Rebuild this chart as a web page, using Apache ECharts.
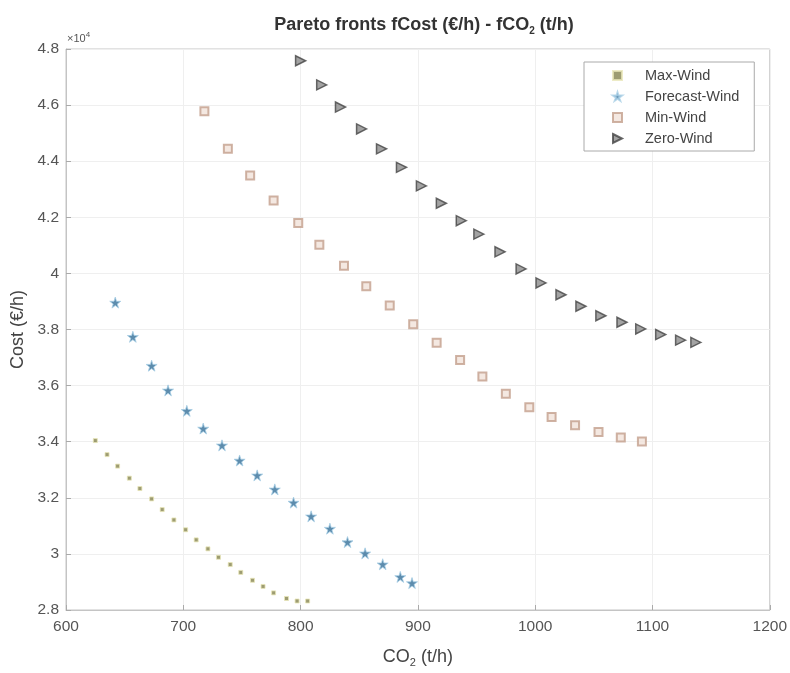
<!DOCTYPE html>
<html>
<head>
<meta charset="utf-8">
<title>Pareto fronts</title>
<script src="https://cdn.jsdelivr.net/npm/echarts@6/dist/echarts.min.js"></script>
<style>
  html, body { margin: 0; padding: 0; background: #fff; }
  #main { width: 790px; height: 673px; }
</style>
</head>
<body>
<div id="main"></div>
<script>
// data (CO2 in t/h, cost in €/h)
var maxWindCO2 = [625, 635, 644, 654, 663, 673, 682, 692, 702, 711, 721, 730, 740, 749, 759, 768, 777, 788, 797, 806]
var maxWindCost = [34040, 33540, 33130, 32700, 32330, 31960, 31580, 31210, 30860, 30500, 30180, 29880, 29620, 29340, 29060, 28840, 28610, 28410, 28320, 28320]

var forecastCO2 = [642, 657, 673, 687, 703, 717, 733, 748, 763, 778, 794, 809, 825, 840, 855, 870, 885, 895]
var forecastCost = [38960, 37740, 36710, 35830, 35100, 34470, 33870, 33330, 32800, 32300, 31830, 31340, 30900, 30420, 30020, 29630, 29180, 28960]

var minWindCO2 = [718, 738, 757, 777, 798, 816, 837, 856, 876, 896, 916, 936, 955, 975, 995, 1014, 1034, 1054, 1073, 1091]
var minWindCost = [45780, 44440, 43490, 42600, 41800, 41020, 40270, 39540, 38860, 38190, 37530, 36910, 36320, 35710, 35230, 34880, 34590, 34350, 34150, 34010]

var zeroWindCO2 = [800, 818, 834, 852, 869, 886, 903, 920, 937, 952, 970, 988, 1005, 1022, 1039, 1056, 1074, 1090, 1107, 1124, 1137]
var zeroWindCost = [47580, 46720, 45930, 45150, 44440, 43780, 43120, 42500, 41880, 41400, 40770, 40160, 39660, 39240, 38830, 38490, 38260, 38020, 37820, 37620, 37540]

var seriesNames = ['Max-Wind', 'Forecast-Wind', 'Min-Wind', 'Zero-Wind']

var xTicks = { min: 600, max: 1200, step: 100 }
var yTicks = { min: 28000, max: 48000, step: 2000 }

var FONT = '"Liberation Sans", Arial, sans-serif'
var STAR = 'path://M50,0 L61,35 L98,35 L68,57 L79,91 L50,70 L21,91 L32,57 L2,35 L39,35 Z'
// right-pointing triangle for the legend (series use rotated 'triangle')
var TRI_RIGHT = 'path://M0,0 L10,5 L0,10 Z'

// zip two arrays into [x, y] pairs
function zip (xs, ys) {
  var out = []
  for (var i = 0; i < xs.length; i++) {
    out.push([xs[i], ys[i]])
  }
  return out
}

var subStyle = { fontSize: 11, fontFamily: FONT, color: '#444', padding: [10, 0, 0, 0] }

var chart = echarts.init(document.getElementById('main'))

var option = {
  backgroundColor: '#fff',
  animation: false,
  textStyle: { fontFamily: FONT },
  title: {
    text: 'Pareto fronts fCost (€/h) - fCO{sub|2} (t/h)',
    left: 419,
    textAlign: 'center',
    top: 10,
    textStyle: {
      fontSize: 18,
      fontWeight: 'bold',
      color: '#333',
      rich: {
        sub: { fontSize: 10, fontWeight: 'bold', color: '#333', padding: [11, 0, 0, 0] }
      }
    }
  },
  graphic: [
    {
      type: 'text',
      left: 67,
      top: 31,
      style: {
        text: '×10{sup|4}',
        fontSize: 11,
        fontFamily: FONT,
        fill: '#555',
        rich: { sup: { fontSize: 8, padding: [0, 0, 7, 0], fill: '#555' } }
      }
    }
  ],
  legend: {
    orient: 'vertical',
    left: 584,
    top: 62,
    padding: [6, 15, 5, 28],
    itemWidth: 9,
    itemHeight: 9,
    itemGap: 6,
    borderColor: '#aaa',
    borderWidth: 1,
    backgroundColor: '#fff',
    textStyle: { fontSize: 14.5, color: '#444', padding: [0, 0, 0, 18] },
    data: [
      { name: seriesNames[0], icon: 'rect' },
      { name: seriesNames[1], icon: STAR },
      { name: seriesNames[2], icon: 'rect' },
      { name: seriesNames[3], icon: TRI_RIGHT }
    ]
  },
  grid: {
    left: 66,
    right: 19,
    top: 49,
    bottom: 60,
    show: true,
    borderColor: '#c4c4c4',
    borderWidth: 1
  },
  xAxis: {
    type: 'value',
    min: xTicks.min,
    max: xTicks.max,
    interval: xTicks.step,
    name: 'CO{sub|2} (t/h)',
    nameLocation: 'middle',
    nameGap: 37,
    nameTextStyle: { fontSize: 18, color: '#444', rich: { sub: subStyle } },
    axisLine: { lineStyle: { color: '#c4c4c4' } },
    axisTick: { inside: true, length: 5, lineStyle: { color: '#aaa' } },
    axisLabel: {
      fontSize: 15.5,
      color: '#555',
      margin: 9,
      formatter: function (v) { return String(v) }
    },
    splitLine: { lineStyle: { color: '#efefef' } }
  },
  yAxis: {
    type: 'value',
    min: yTicks.min,
    max: yTicks.max,
    interval: yTicks.step,
    name: 'Cost (€/h)',
    nameLocation: 'middle',
    nameGap: 35,
    nameTextStyle: { fontSize: 18, color: '#444' },
    axisLine: { show: true, lineStyle: { color: '#c4c4c4' } },
    axisTick: { show: true, inside: true, length: 5, lineStyle: { color: '#aaa' } },
    axisLabel: {
      fontSize: 15.5,
      color: '#555',
      margin: 7,
      formatter: function (v) { return String(parseFloat((v / 1e4).toFixed(1))) }
    },
    splitLine: { lineStyle: { color: '#efefef' } }
  },
  series: [
    {
      name: seriesNames[0],
      type: 'scatter',
      symbol: 'rect',
      symbolSize: 4,
      itemStyle: { color: '#85834f', borderColor: '#e8e6b8', borderWidth: 1 },
      data: zip(maxWindCO2, maxWindCost)
    },
    {
      name: seriesNames[1],
      type: 'scatter',
      symbol: STAR,
      symbolSize: 11,
      itemStyle: { color: '#356f98', borderColor: '#a9d0e6', borderWidth: 1 },
      data: zip(forecastCO2, forecastCost)
    },
    {
      name: seriesNames[2],
      type: 'scatter',
      symbol: 'rect',
      symbolSize: 8,
      itemStyle: { color: '#f1e2d9', borderColor: '#c39f8c', borderWidth: 2 },
      data: zip(minWindCO2, minWindCost)
    },
    {
      name: seriesNames[3],
      type: 'scatter',
      symbol: 'triangle',
      symbolRotate: -90,
      symbolSize: 10,
      itemStyle: { color: '#8c8c8c', borderColor: '#444', borderWidth: 1.5 },
      data: zip(zeroWindCO2, zeroWindCost)
    }
  ]
}

chart.setOption(option)
</script>
</body>
</html>
